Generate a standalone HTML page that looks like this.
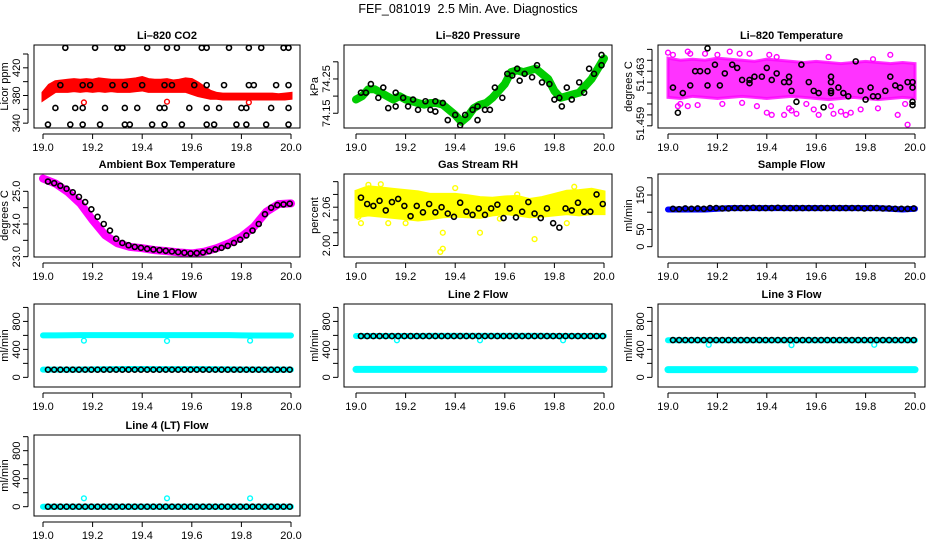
<!DOCTYPE html>
<html><head><meta charset="utf-8"><style>
html,body{margin:0;padding:0;background:#fff;}
svg{display:block;font-family:"Liberation Sans",sans-serif;}
</style></head><body>
<svg id="chart" width="936" height="540" viewBox="0 0 936 540">
<text x="468" y="13" text-anchor="middle" font-size="12.5" style="white-space:pre">FEF_081019&#160;&#160;2.5 Min. Ave. Diagnostics</text>
</svg>
<script>
// ---------- data ----------
const xTicks = [19.0, 19.2, 19.4, 19.6, 19.8, 20.0];
const xTickLabels = ["19.0","19.2","19.4","19.6","19.8","20.0"];

// CO2
const co2RedHi = [384,395,400,401,402,403,402,403,402,404,403,402,402,402,403,404,406,403,402,402,403,401,402,404,403,398,392,386,383,382,382,382,382,382,382,382,382,382,381,382,383];
const co2RedLo = [374,380,386,386,386,387,386,387,386,387,386,387,386,386,386,387,388,386,386,386,386,386,386,386,383,380,378,376,376,375,375,375,375,375,375,375,375,375,375,375,376];
const co2RedOutT = [19.165,19.50,19.83];
const co2RedOutV = [370,371,370];
const co2BlackT = [19.09,19.21,19.30,19.32,19.42,19.50,19.54,19.64,19.66,19.75,19.83,19.88,19.97,19.99,
 19.07,19.16,19.19,19.28,19.33,19.40,19.49,19.52,19.61,19.66,19.73,19.83,19.85,19.94,19.99,
 19.05,19.13,19.16,19.25,19.33,19.38,19.47,19.49,19.59,19.66,19.71,19.80,19.82,19.92,19.99,
 19.02,19.11,19.16,19.23,19.33,19.35,19.44,19.49,19.56,19.66,19.69,19.78,19.82,19.90,19.99];
const co2BlackV = [449,449,449,449,449,449,449,449,449,449,449,449,449,449,
 395,395,395,395,395,395,395,395,395,395,395,395,395,395,395,
 362,362,362,362,362,362,362,362,362,362,362,362,362,362,362,
 338,338,338,338,338,338,338,338,338,338,338,338,338,338,338];

// Pressure
const presGreen = [74.19,74.20,74.22,74.22,74.21,74.20,74.19,74.20,74.19,74.185,74.18,74.175,74.18,74.18,74.175,74.16,74.145,74.125,74.14,74.165,74.175,74.18,74.195,74.215,74.235,74.27,74.275,74.27,74.275,74.28,74.265,74.25,74.215,74.195,74.2,74.205,74.21,74.23,74.25,74.28,74.31];
const presBlackT = [19.02,19.04,19.06,19.09,19.11,19.13,19.16,19.16,19.19,19.21,19.23,19.25,19.28,19.30,19.32,19.32,19.35,19.37,19.40,19.42,19.44,19.47,19.49,19.49,19.52,19.54,19.56,19.59,19.61,19.63,19.65,19.66,19.68,19.71,19.73,19.75,19.78,19.80,19.82,19.83,19.85,19.87,19.90,19.92,19.94,19.96,19.99,19.99];
const presBlackV = [74.21,74.21,74.235,74.195,74.225,74.165,74.17,74.21,74.195,74.17,74.19,74.16,74.185,74.16,74.185,74.155,74.18,74.13,74.145,74.115,74.145,74.16,74.17,74.13,74.16,74.16,74.225,74.195,74.265,74.26,74.28,74.245,74.265,74.255,74.29,74.24,74.235,74.19,74.195,74.17,74.225,74.19,74.24,74.21,74.28,74.265,74.29,74.32];

// Li-820 temperature
const tempMagHi = [51.4642,51.4640,51.4641,51.4640,51.4642,51.4641,51.4640,51.4639,51.4641,51.4640,51.4639,51.4638,51.4639,51.4638,51.4637,51.4638,51.4639,51.4638,51.4637,51.4638,51.4637];
const tempMagLo = [51.4606,51.4605,51.4607,51.4606,51.4605,51.4606,51.4607,51.4606,51.4605,51.4606,51.4607,51.4606,51.4605,51.4604,51.4605,51.4606,51.4605,51.4604,51.4605,51.4606,51.4605];
const tempMagOutT = [19.00,19.02,19.08,19.09,19.05,19.04,19.08,19.25,19.29,19.33,19.41,19.44,19.42,19.40,19.47,19.49,19.50,19.52,19.61,19.67,19.70,19.72,19.74,19.78,19.90,19.93,19.97,19.96,19.85,19.59,19.15,19.20,19.36,19.56,19.65,19.83,19.22,19.30,19.12,19.66];
const tempMagOutV = [51.4647,51.4645,51.4648,51.4646,51.4600,51.4598,51.4598,51.4648,51.4646,51.4646,51.4645,51.4643,51.4590,51.4592,51.4590,51.4596,51.4594,51.4591,51.4590,51.4591,51.4593,51.4590,51.4592,51.4595,51.4645,51.4590,51.4581,51.4600,51.4596,51.4595,51.4646,51.4645,51.4598,51.4600,51.4643,51.4641,51.4600,51.4601,51.4599,51.4598];
const tempBlackT = [19.02,19.04,19.06,19.09,19.11,19.13,19.16,19.16,19.16,19.19,19.21,19.23,19.26,19.28,19.30,19.33,19.33,19.35,19.38,19.40,19.42,19.44,19.47,19.49,19.49,19.50,19.52,19.54,19.57,19.59,19.61,19.63,19.66,19.66,19.66,19.66,19.69,19.71,19.73,19.76,19.78,19.80,19.82,19.83,19.85,19.88,19.90,19.92,19.94,19.97,19.99,19.99,19.99,19.99];
const tempBlackV = [51.4615,51.4592,51.4610,51.4617,51.4630,51.4630,51.4630,51.4651,51.4617,51.4636,51.4617,51.4628,51.4636,51.4633,51.4622,51.4619,51.4622,51.4625,51.4625,51.4633,51.4622,51.4628,51.4620,51.4620,51.4625,51.4612,51.4602,51.4636,51.4620,51.4612,51.4610,51.4597,51.4625,51.4620,51.4612,51.4610,51.4615,51.4610,51.4607,51.4639,51.4612,51.4604,51.4615,51.4607,51.4607,51.4612,51.4625,51.4617,51.4615,51.4620,51.4615,51.4620,51.4602,51.4599];

// Ambient box temperature
const ambMag = [25.39,25.24,24.98,24.63,24.12,23.66,23.41,23.30,23.26,23.20,23.17,23.13,23.10,23.15,23.26,23.41,23.61,23.91,24.37,24.61,24.63];
const ambBlack = [25.3,25.25,25.17,25.08,24.97,24.83,24.67,24.45,24.22,24.0,23.8,23.55,23.42,23.35,23.3,23.27,23.24,23.22,23.2,23.18,23.16,23.14,23.12,23.1,23.11,23.13,23.17,23.22,23.27,23.33,23.42,23.52,23.65,23.8,24.0,24.3,24.5,24.58,24.6,24.62];

// Gas stream RH
const rhYelHi = [2.085,2.092,2.09,2.088,2.086,2.084,2.08,2.08,2.08,2.078,2.075,2.074,2.076,2.077,2.072,2.075,2.08,2.085,2.086,2.088,2.084];
const rhYelLo = [2.045,2.048,2.046,2.044,2.042,2.04,2.042,2.045,2.046,2.045,2.044,2.048,2.05,2.048,2.045,2.046,2.048,2.05,2.048,2.05,2.05];
const rhYelOutT = [19.34,19.35,19.35,19.50,19.72,19.13,19.20,19.65,19.02,19.05,19.10,19.40,19.88,19.01,19.58,19.85];
const rhYelOutV = [1.99,1.995,2.02,2.02,2.01,2.035,2.035,2.08,2.035,2.095,2.096,2.090,2.092,2.045,2.042,2.035];
const rhBlack = [2.075,2.065,2.062,2.07,2.055,2.068,2.073,2.062,2.046,2.062,2.052,2.065,2.052,2.06,2.05,2.045,2.067,2.053,2.048,2.058,2.048,2.058,2.064,2.043,2.058,2.044,2.053,2.068,2.05,2.043,2.058,2.035,2.028,2.058,2.055,2.067,2.053,2.053,2.08,2.065];

// Sample flow
const sampBlue = [108,108,108,108,110,112,112,112,112,112,112,112,112,112,112,112,112,112,110,108,110];
const sampBlack = [110,109,111,110,111,110,112,112,111,111,112,112,112,113,112,112,112,113,112,112,112,112,112,112,112,112,112,112,112,112,112,111,112,112,111,111,110,110,110,111];

// Line flows
const l1CyanTop = [600,600,602,603,604,604,604,604,604,604,604,604,604,604,603,603,600,598,598,598,598];
const l1CyanBot = [110,110,110,112,114,116,118,120,120,118,118,118,118,118,116,114,112,112,110,110,110];
const l1Black = [110,110,110,110,110,110,110,110,110,110,110,110,110,110,110,110,110,110,110,110,110,110,110,110,110,110,110,110,110,110,110,110,110,110,110,110,110,110,110,110];
const l2CyanTop = [592,592,592,592,592,592,594,594,594,594,594,594,594,594,594,594,592,592,592,592,592];
const l2CyanBot = [114,114,114,114,114,114,114,114,114,114,114,114,114,114,114,114,114,114,114,114,114];
const l2Black = [590,590,590,590,590,590,590,590,590,590,590,590,590,590,590,590,590,590,590,590,590,590,590,590,590,590,590,590,590,590,590,590,590,590,590,590,590,590,590,590];
const l3CyanTop = [530,530,530,530,530,530,530,530,530,530,530,530,530,530,530,530,530,530,530,530,530];
const l3CyanBot = [110,110,110,110,110,110,110,110,110,110,110,110,110,110,110,110,110,110,110,110,110];
const l3Black = [533,533,533,533,533,533,533,533,533,533,533,533,533,533,533,533,533,533,533,533,533,533,533,533,533,533,533,533,533,533,533,533,533,533,533,533,533,533,533,533];
const l4Cyan = [0,0,0,0,0,0,0,0,0,0,0,0,0,0,0,0,0,0,0,0,0];
const l4Black = [0,0,0,0,0,0,0,0,0,0,0,0,0,0,0,0,0,0,0,0,0,0,0,0,0,0,0,0,0,0,0,0,0,0,0,0,0,0,0,0];
const flowDipT = [19.165,19.50,19.835];
const l1DipV = [525,520,525];
const l2DipV = [530,530,530];
const l3DipV = [465,460,465];
const l4SpikeV = [120,120,120];

// ---------- drawing ----------
const NS = "http://www.w3.org/2000/svg";
const svg = document.getElementById("chart");
function mk(tag, attrs, parent){const e=document.createElementNS(NS,tag);for(const k in attrs)e.setAttribute(k,attrs[k]);(parent||svg).appendChild(e);return e;}

const cols=[{l:34,r:300,x0:43,x1:291},{l:344,r:612,x0:356,x1:604},{l:658,r:925,x0:668,x1:915}];
const rows=[{t:45,b:128},{t:174,b:257},{t:304,b:387},{t:435,b:516}];

function panel(name,title,ylab,ci,ri,dom,yTicks,yLabels,draw,labelPos){
  const c=cols[ci], r=rows[ri];
  const g=mk("g",{});
  
  
  const xs=v=>c.x0+(v-19)/(1)*(c.x1-c.x0);
  const ys=v=>r.b-(v-dom[0])/(dom[1]-dom[0])*(r.b-r.t);
  const idxT=(i,n,s,e)=>s+(e-s)*i/(n-1);
  const marks=mk("g",{},g);
  
  
  draw({xs,ys,idxT,marks});
  const box=mk("rect",{x:c.l,y:r.t,width:c.r-c.l,height:r.b-r.t,fill:"none",stroke:"#000","stroke-width":1},g);
  
  
  const tt=mk("text",{x:(c.l+c.r)/2,y:r.t-6,"text-anchor":"middle","font-size":"11","font-weight":"bold"},g);
  tt.textContent=title;
  
  
  const xa=mk("g",{},g);
  
  
  mk("line",{x1:xs(xTicks[0]),x2:xs(xTicks[xTicks.length-1]),y1:r.b+6,y2:r.b+6,stroke:"#000"},xa);
  xTicks.forEach((v,i)=>{
    mk("line",{x1:xs(v),x2:xs(v),y1:r.b+6,y2:r.b+11,stroke:"#000"},xa);
    const t=mk("text",{x:xs(v),y:r.b+23,"text-anchor":"middle","font-size":"11"},xa);
    t.textContent=xTickLabels[i];
    
    
  });
  const ya=mk("g",{},g);
  
  
  mk("line",{x1:c.l-6,x2:c.l-6,y1:ys(yTicks[0]),y2:ys(yTicks[yTicks.length-1]),stroke:"#000"},ya);
  yTicks.forEach((v,i)=>{
    mk("line",{x1:c.l-11,x2:c.l-6,y1:ys(v),y2:ys(v),stroke:"#000"},ya);
    if(yLabels[i]){
      const x=c.l-14, y=labelPos?ys(labelPos[i]):ys(v);
      const t=mk("text",{x:x,y:y,"text-anchor":"middle","font-size":"11",transform:`rotate(-90 ${x} ${y})`},ya);
      t.textContent=yLabels[i];
      
      
    }
  });
  const lx=c.l-26, ly=(r.t+r.b)/2;
  const yl=mk("text",{x:lx,y:ly,"text-anchor":"middle","font-size":"11",transform:`rotate(-90 ${lx} ${ly})`},g);
  yl.textContent=ylab;
  
  
}
function circ(p,x,y,col,r,sw){const e=mk("circle",{cx:x,cy:y,r:r||2.4,fill:"none",stroke:col,"stroke-width":sw||1.4},p);return e;}
function band(a,hi,lo,col,op){
  const n=hi.length;let pts=[];
  for(let i=0;i<n;i++)pts.push(a.xs(a.idxT(i,n,19,20))+","+a.ys(hi[i]));
  for(let i=n-1;i>=0;i--)pts.push(a.xs(a.idxT(i,n,19,20))+","+a.ys(lo[i]));
  const e=mk("polygon",{points:pts.join(" "),fill:col,"fill-opacity":op||1,stroke:col,"stroke-opacity":op||1,"stroke-width":3},a.marks);
  
}
function line(a,vals,col,w){
  const n=vals.length;const pts=vals.map((v,i)=>a.xs(a.idxT(i,n,19,20))+","+a.ys(v));
  const e=mk("polyline",{points:pts.join(" "),fill:"none",stroke:col,"stroke-width":w,"stroke-linejoin":"round","stroke-linecap":"round"},a.marks);
  
}
function blackSeq(a,vals,col){const n=vals.length;vals.forEach((v,i)=>circ(a.marks,a.xs(a.idxT(i,n,19.02,19.995)),a.ys(v),col||"#000",2.5,1.6));}
function pts(a,T,V,col,r,sw){T.forEach((t,i)=>circ(a.marks,a.xs(t),a.ys(V[i]),col,r,sw));}

panel("co2-panel","Li\u2013820 CO2","Licor ppm",0,0,[333,453],[340,360,380,400,420,440],["340","","380","","420",""],a=>{
  band(a,co2RedHi,co2RedLo,"#ff0000");
  pts(a,co2RedOutT,co2RedOutV,"#ff0000");
  pts(a,co2BlackT,co2BlackV,"#000",2.5,1.6);
});
panel("pressure-panel","Li\u2013820 Pressure","kPa",1,0,[74.107,74.349],[74.15,74.20,74.25,74.30],["74.15","","74.25",""],a=>{
  line(a,presGreen,"#00cc00",8);
  pts(a,presBlackT,presBlackV,"#000",2.5,1.6);
});
panel("li820-temp-panel","Li\u2013820 Temperature","degrees C",2,0,[51.4578,51.4654],[51.458,51.459,51.460,51.461,51.462,51.463,51.464,51.465],["","51.459","","","","51.463","",""],a=>{
  band(a,tempMagHi,tempMagLo,"#ff00ff",0.8);
  pts(a,tempMagOutT,tempMagOutV,"#ff00ff");
  pts(a,tempBlackT,tempBlackV,"#000",2.5,1.6);
},[0,51.4582,0,0,0,51.4627,0,0]);
panel("ambient-temp-panel","Ambient Box Temperature","degrees C",0,1,[22.99,25.53],[23.0,23.5,24.0,24.5,25.0],["23.0","","24.0","","25.0"],a=>{
  line(a,ambMag,"#ff00ff",8);
  blackSeq(a,ambBlack);
});
panel("rh-panel","Gas Stream RH","percent",1,1,[1.982,2.112],[2.00,2.02,2.04,2.06,2.08,2.10],["2.00","","","2.06","",""],a=>{
  band(a,rhYelHi,rhYelLo,"#ffff00");
  pts(a,rhYelOutT,rhYelOutV,"#ffff00");
  blackSeq(a,rhBlack);
});
panel("sample-flow-panel","Sample Flow","ml/min",2,1,[-30,211],[0,50,100,150,200],["0","50","","150",""],a=>{
  line(a,sampBlue,"#0000ff",6);
  blackSeq(a,sampBlack);
});
const flowTicks=[0,200,400,600,800,1000], flowLabels=["0","","400","","800",""];
panel("line1-flow-panel","Line 1 Flow","ml/min",0,2,[-138,1049],flowTicks,flowLabels,a=>{
  line(a,l1CyanTop,"#00ffff",6);line(a,l1CyanBot,"#00ffff",6);
  pts(a,flowDipT,l1DipV,"#00ffff");
  blackSeq(a,l1Black);
});
panel("line2-flow-panel","Line 2 Flow","ml/min",1,2,[-138,1049],flowTicks,flowLabels,a=>{
  line(a,l2CyanTop,"#00ffff",6);line(a,l2CyanBot,"#00ffff",7);
  pts(a,flowDipT,l2DipV,"#00ffff");
  blackSeq(a,l2Black);
});
panel("line3-flow-panel","Line 3 Flow","ml/min",2,2,[-138,1049],flowTicks,flowLabels,a=>{
  line(a,l3CyanTop,"#00ffff",6);line(a,l3CyanBot,"#00ffff",7);
  pts(a,flowDipT,l3DipV,"#00ffff");
  blackSeq(a,l3Black);
});
panel("line4-flow-panel","Line 4 (LT) Flow","ml/min",0,3,[-133,1024],flowTicks,flowLabels,a=>{
  line(a,l4Cyan,"#00ffff",6);
  pts(a,flowDipT,l4SpikeV,"#00ffff");
  blackSeq(a,l4Black);
});
</script>
</body></html>
